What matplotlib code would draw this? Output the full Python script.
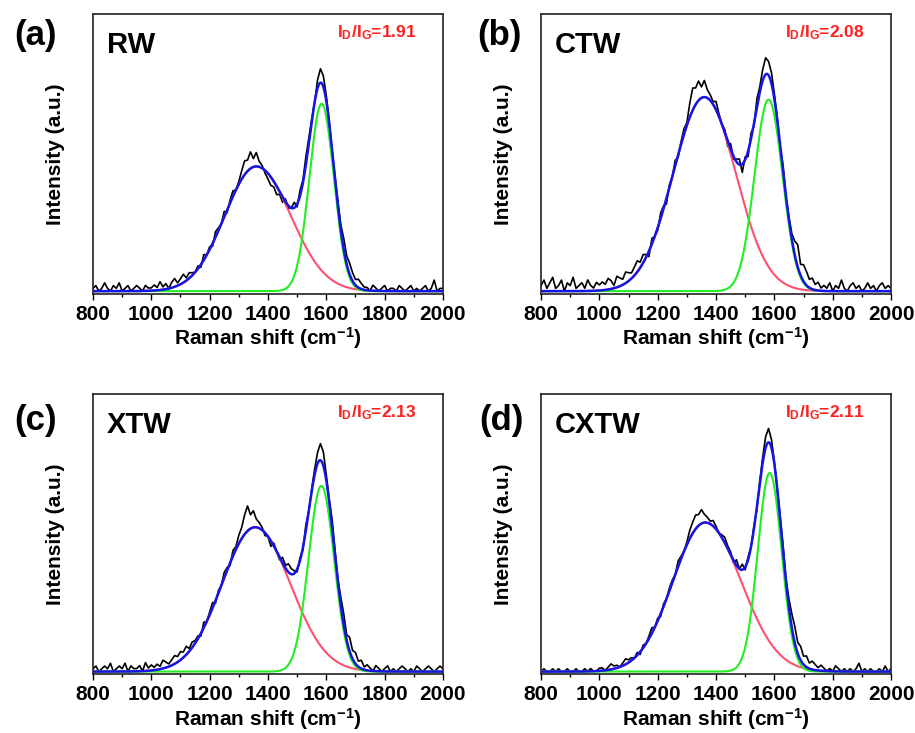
import numpy as np
import matplotlib
matplotlib.use("Agg")
import matplotlib.pyplot as plt
from matplotlib.ticker import MultipleLocator

plt.rcParams['font.family'] = 'Liberation Sans'
plt.rcParams['font.weight'] = 'bold'
plt.rcParams['mathtext.fontset'] = 'custom'
plt.rcParams['mathtext.rm'] = 'Liberation Sans:bold'
plt.rcParams['mathtext.it'] = 'Liberation Sans:bold'
plt.rcParams['mathtext.bf'] = 'Liberation Sans:bold'

panels = ['(a)', '(b)', '(c)', '(d)']
samples = ['RW', 'CTW', 'XTW', 'CXTW']
ratios = ['1.91', '2.08', '2.13', '2.11']

# fitted peaks (intensity as fraction of the plot height)
d_center = [1360, 1360, 1356, 1363]
d_height = [0.45, 0.70, 0.52, 0.537]
d_width_left = [108, 107, 114, 111]
d_width_right = [118, 108, 121, 123]
g_center = [1584, 1580, 1583, 1584]
g_height = [0.676, 0.691, 0.669, 0.716]
g_width = [42, 48, 44, 41]

# measured spectrum minus fit, every 10 cm-1 from 800 to 2000, in 0.01 units
resid_rw = [1, 2, 0, 1, 3, 1, 0, 2, 1, 3, 0, 1, 2, 0, 1, 2, 1, 0, 2, 1, 1,
            2, 1, 3, 1, 2, 0, 2, 3, 1, 2, 3, 1, 2, 1, 0,
            1, -1, 2, 0, 1, -1, 2, 1, 0, 2, -1, 1, 2, 0, 1,
            3, 5, 4, 6, 3, 5, 2, 1,
            -1, -2, -3, -2, -3, -1, -2,
            1, -1, 0, 2, -1,
            2, 1, 3, 2, 1, 0,
            3, 5, 4, 2,
            1, 0, 1, 2,
            2, 4, 3, 4, 3, 2, 3, 2, 1,
            1, 0, 2, 1, 0, 1, 2, 0, 1, 1, 0, 2, 1, 0, 1, 2, 0, 1, 0, 1, 2, 0, 1, 4, 0, 1, 1]
resid_ctw = [2, 4, 1, 3, 5, 1, 2, 4, 0, 3, 2, 5, 1, 2, 3, 1, 4, 2, 1, 3, 2,
             3, 2, 4, 3, 1, 4, 3, 2, 4, 3, 2, 3, 4, 2, 3,
             1, -2, 2, 0, -1, 2, 1, -2, 1, 0, 2, -1, 1, 2, 1,
             5, 8, 6, 7, 4, 6,
             3, 2, 1, 3, 1, 0,
             1, -2, 2, -1, 1, 2,
             -3, 1, -2, 2, -1,
             3, 2, 4, 6, 5, 4, 2,
             1, -1, 2, 0, 1, 2,
             5, 8, 4, 6, 5, 3, 4, 2, 3, 1,
             2, 1, 3, 0, 2, 1, 4, 1, 0, 2, 3, 1, 2, 0, 1, 3, 1, 2, 0, 2, 3, 1, 2, 1]
resid_xtw = [1, 2, 0, 1, 2, 1, 3, 0, 1, 2, 1, 3, 0, 2, 1, 1, 2, 0, 3, 1, 2,
             1, 2, 1, 3, 2, 1, 2, 3, 2, 3,
             2, 3, 1, 2, 1,
             1, -1, 2, 0, 1, 2, -1, 1, 0, 2, 1, -1, 2, 1, 3,
             4, 7, 9, 5, 6, 3,
             2, 1, -1, 0, -2, 1, 0, -1,
             2, 1, 3, 2, 1, -1,
             1, -1, 2, 0, 1, 2,
             4, 6, 5,
             2, 1, 3, 2, 1,
             3, 4, 2, 5, 3, 4, 2, 3, 1, 2,
             1, 0, 2, 1, 0, 1, 2, 0, 1, 0, 1, 2, 1, 0, 1, 0, 2, 1, 0, 1, 2, 1, 0, 1, 2, 1]
resid_cxtw = [0, 1, 0, 0, 1, 0, 1, 0, 0, 1, 0, 0, 1, 0, 0, 1, 0, 1, 0, 0, 1,
              1, 0, 1, 2, 1, 1, 0, 1, 2, 1,
              1, 0, 1, -1, 1, 0, 1, 2, 0, 1, -1, 1, 0, 1, 1, 0, 2, 1, 0, 1,
              3, 4, 5, 4, 5, 3, 2,
              1, 2, 1, 0, 1, 2, 1,
              1, -1, 2, 0, 2, -1,
              1, 0, 1, -1, 1, 2,
              4, 5, 3,
              1, 0, 1, 2, 1,
              3, 5, 6, 4, 5, 3, 4, 2, 3, 2, 1, 2,
              1, 0, 1, 0, 2, 1, 0, 1, 0, 1, 0, 1, 3, 0, 1, 0, 1, 0, 0, 1, 0, 2, 0, 1]
residuals = [resid_rw, resid_ctw, resid_xtw, resid_cxtw]

x_fine = np.linspace(800, 2000, 1201)
x_meas = np.arange(800, 2001, 10)


def d_band(x, i):
    w = np.where(x < d_center[i], d_width_left[i], d_width_right[i])
    return d_height[i] * np.exp(-(x - d_center[i]) ** 2 / (2 * w ** 2))


def g_band(x, i):
    return g_height[i] * np.exp(-(x - g_center[i]) ** 2 / (2 * g_width[i] ** 2))


fig = plt.figure(figsize=(9.15, 7.33), dpi=100)
boxes = [[0.1016, 0.5990, 0.3825, 0.3820], [0.5913, 0.5990, 0.3825, 0.3820],
         [0.1016, 0.0800, 0.3825, 0.3825], [0.5913, 0.0800, 0.3825, 0.3825]]
label_pos = [(0.016, 0.952), (0.522, 0.952), (0.016, 0.427), (0.524, 0.427)]

for i in range(4):
    ax = fig.add_axes(boxes[i])
    meas = d_band(x_meas, i) + g_band(x_meas, i) + np.array(residuals[i]) / 100
    ax.plot(x_meas, meas, color='black', lw=1.2, zorder=1)
    ax.plot(x_fine, d_band(x_fine, i), color='#FF5070', lw=1.5, zorder=2)
    ax.plot(x_fine, g_band(x_fine, i), color='#22EE22', lw=1.5, zorder=3)
    ax.plot(x_fine, d_band(x_fine, i) + g_band(x_fine, i), color='#1515E6', lw=1.8, zorder=4)

    ax.set_xlim(800, 2000)
    ax.set_ylim(-0.01, 1.0)
    ax.set_yticks([])
    ax.xaxis.set_major_locator(MultipleLocator(200))
    ax.xaxis.set_minor_locator(MultipleLocator(100))
    ax.tick_params(axis='x', which='major', direction='out', length=4, width=1, labelsize=15, pad=4)
    ax.tick_params(axis='x', which='minor', direction='out', length=2.5, width=1)
    for s in ax.spines.values():
        s.set_linewidth(1.2)
        s.set_color('#222222')
    ax.set_xlabel(r'Raman shift (cm$^{-1}$)', fontsize=15, fontweight='bold', labelpad=1)
    ax.set_ylabel('Intensity (a.u.)', fontsize=15, fontweight='bold')
    ax.yaxis.set_label_coords(-0.08, 0.5)

    ax.text(0.04, 0.86, samples[i], transform=ax.transAxes, fontsize=21,
            fontweight='bold', ha='left', va='baseline')
    ax.text(0.925, 0.918, r'I$_{D}$/I$_{G}$=' + ratios[i], transform=ax.transAxes,
            fontsize=12.5, fontweight='bold', color='#FF2020', ha='right', va='baseline')
    fig.text(label_pos[i][0], label_pos[i][1], panels[i], fontsize=25,
             fontweight='bold', ha='left', va='center')

fig.savefig('out.png', dpi=100)
